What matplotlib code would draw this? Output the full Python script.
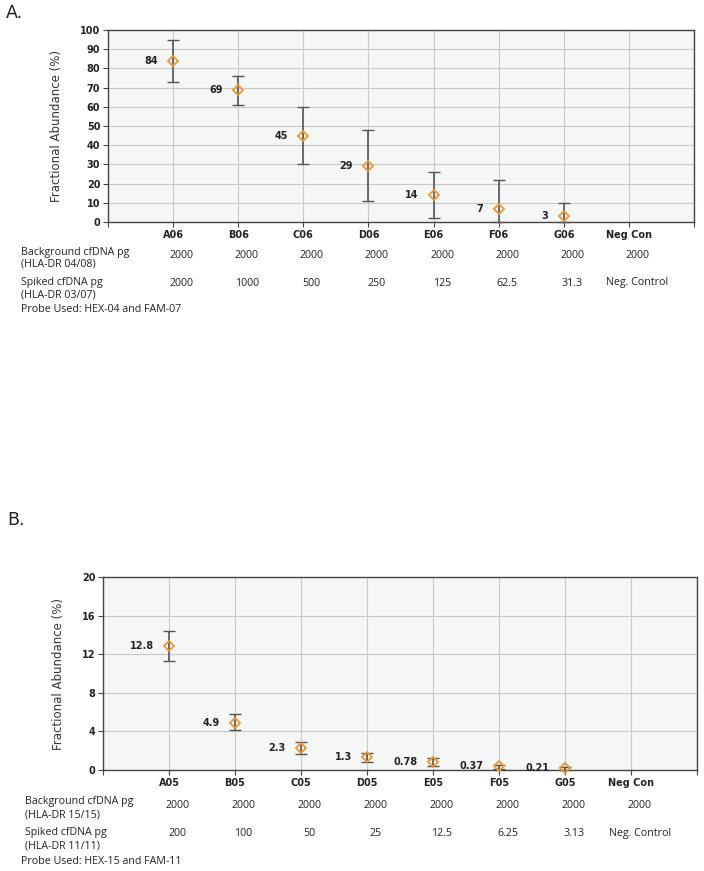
import matplotlib

matplotlib.use("Agg")
import matplotlib.pyplot as plt  # noqa: E402
import matplotlib.transforms as mtransforms  # noqa: E402

# --- Dati pannello A ---
wells_a = ["A06", "B06", "C06", "D06", "E06", "F06", "G06", "Neg Con"]
frac_a = [84, 69, 45, 29, 14, 7, 3]
low_a = [73, 61, 30, 11, 2, 0, 0]
high_a = [95, 76, 60, 48, 26, 22, 10]
labels_a = ["84", "69", "45", "29", "14", "7", "3"]
bg_a = ["2000"] * 8
spiked_a = ["2000", "1000", "500", "250", "125", "62.5", "31.3", "Neg. Control"]
rows_a = ["Background cfDNA pg", "(HLA-DR 04/08)", "Spiked cfDNA pg", "(HLA-DR 03/07)",
          "Probe Used: HEX-04 and FAM-07"]

# --- Dati pannello B ---
wells_b = ["A05", "B05", "C05", "D05", "E05", "F05", "G05", "Neg Con"]
frac_b = [12.8, 4.9, 2.3, 1.3, 0.78, 0.37, 0.21]
low_b = [11.3, 4.1, 1.7, 0.8, 0.4, 0.15, 0.0]
high_b = [14.4, 5.8, 2.9, 1.8, 1.2, 0.55, 0.35]
labels_b = ["12.8", "4.9", "2.3", "1.3", "0.78", "0.37", "0.21"]
bg_b = ["2000"] * 8
spiked_b = ["200", "100", "50", "25", "12.5", "6.25", "3.13", "Neg. Control"]
rows_b = ["Background cfDNA pg", "(HLA-DR 15/15)", "Spiked cfDNA pg", "(HLA-DR 11/11)",
          "Probe Used: HEX-15 and FAM-11"]

W, H = 704, 871
ORANGE = "#F0962A"
TXT = "#222222"
TABLE_FONT = "Open Sans"
TABLE_SIZE = 7.7


def fy(px):
    """Pixel dall'alto -> frazione di figura."""
    return 1 - px / H


def panel(fig, rect, wells, frac, low, high, labels, ymax, yticks, bg, spiked, rows,
          rows_y, rows_x):
    ax = fig.add_axes(rect)
    ax.set_facecolor("#F5F7F7")
    x = list(range(1, len(frac) + 1))
    yerr = [[f - lo for f, lo in zip(frac, low)], [hi - f for f, hi in zip(frac, high)]]
    ax.errorbar(x, frac, yerr=yerr, fmt="none", ecolor="#555555", elinewidth=1.2,
                capsize=4.5, capthick=1.0, zorder=3, clip_on=False)
    ax.plot(x, frac, "D", ms=5.5, mfc="none", mec=ORANGE, mew=1.3, zorder=4, clip_on=False)
    for xi, yi, lab in zip(x, frac, labels):
        ax.annotate(lab, (xi, yi), xytext=(-11, 0), textcoords="offset points",
                    ha="right", va="center", fontsize=7, fontweight="bold", color=TXT)
    ax.set_xlim(0, 9)
    ax.set_ylim(0, ymax)
    ax.set_yticks(yticks)
    ax.set_xticks(range(0, 10))
    ax.set_xticklabels([""] + wells + [""])
    ax.grid(True, color="#C8CACA", linewidth=0.8)
    ax.set_axisbelow(True)
    for s in ax.spines.values():
        s.set_color("#444444")
        s.set_linewidth(1.0)
    ax.tick_params(axis="both", colors="#444444", labelcolor=TXT, labelsize=7,
                   length=3.5, width=0.8, pad=2)
    for t in ax.get_xticklabels() + ax.get_yticklabels():
        t.set_fontweight("bold")
    ax.set_ylabel("Fractional Abundance (%)", fontsize=8.5, color="#333333", labelpad=12)

    # tabella sotto l'asse
    tr = mtransforms.blended_transform_factory(ax.transData, fig.transFigure)
    y_bg1, y_bg2, y_sp1, y_sp2, y_probe, y_bgv, y_spv = rows_y
    for yy, txt in zip([y_bg1, y_bg2, y_sp1, y_sp2], rows[:4]):
        fig.text(rows_x / W, fy(yy), txt, fontsize=TABLE_SIZE, family=TABLE_FONT,
                 color=TXT, va="center")
    fig.text(21 / W, fy(y_probe), rows[4], fontsize=TABLE_SIZE, family=TABLE_FONT,
             color=TXT, va="center")
    for i, (b, s) in enumerate(zip(bg, spiked)):
        xi = i + 1 + 0.13
        fig.text(xi, fy(y_bgv), b, transform=tr, fontsize=TABLE_SIZE, family=TABLE_FONT,
                 color=TXT, ha="center", va="center")
        fig.text(xi, fy(y_spv), s, transform=tr, fontsize=TABLE_SIZE, family=TABLE_FONT,
                 color=TXT, ha="center", va="center")
    return ax


fig = plt.figure(figsize=(W / 100, H / 100), dpi=100)

panel(fig, [108 / W, fy(222), 586 / W, 192 / H], wells_a, frac_a, low_a, high_a, labels_a,
      100, range(0, 101, 10), bg_a, spiked_a, rows_a,
      (252, 264, 282, 295, 310, 255, 283), 21)
panel(fig, [103 / W, fy(770), 594 / W, 193 / H], wells_b, frac_b, low_b, high_b, labels_b,
      20, range(0, 21, 4), bg_b, spiked_b, rows_b,
      (801, 815, 832, 846, 861, 805, 833), 25)

fig.text(6 / W, fy(13), "A.", fontsize=12.5, color=TXT, va="center")
fig.text(7 / W, fy(520), "B.", fontsize=12.5, color=TXT, va="center")

fig.savefig("out.png", dpi=100)
